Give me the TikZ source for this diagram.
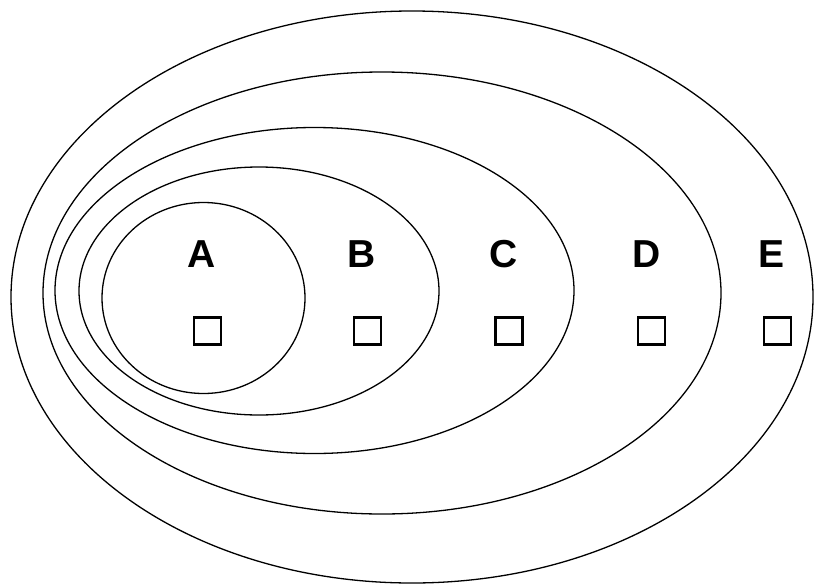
\documentclass[tikz,border=0pt]{standalone}
\usepackage{fontspec}
\setmainfont{Liberation Sans}
\usetikzlibrary{shapes.geometric}
\begin{document}
\begin{tikzpicture}[x=1pt,y=-1pt,
  setline/.style={ellipse, draw, line width=1.3pt, inner sep=0pt, outer sep=0pt},
  setlabel/.style={anchor=base, inner sep=0pt, font=\fontsize{39}{39}\selectfont\bfseries},
  elembox/.style={draw, line width=2.7pt, minimum width=27pt, minimum height=27pt, inner sep=0pt}]
\useasboundingbox (0,0) rectangle (814,584);
\node[setline, minimum width=203pt, minimum height=191pt] (eA) at (203.5,298) {};
\node[setline, minimum width=360pt, minimum height=248pt] (eB) at (259,291) {};
\node[setline, minimum width=519pt, minimum height=326pt] (eC) at (314.5,290.5) {};
\node[setline, minimum width=678pt, minimum height=442pt] (eD) at (382,293) {};
\node[setline, minimum width=802pt, minimum height=572pt] (eE) at (412,297) {};
\node[setlabel] (lA) at (201.5,267) {A};
\node[setlabel] (lB) at (362,267) {B};
\node[setlabel] (lC) at (504,267) {C};
\node[setlabel] (lD) at (646.5,267) {D};
\node[setlabel] (lE) at (771,267) {E};
\node[elembox] (bA) at (207.5,331) {};
\node[elembox] (bB) at (367.5,331) {};
\node[elembox] (bC) at (509,331) {};
\node[elembox] (bD) at (651.5,331) {};
\node[elembox] (bE) at (777.5,331) {};
\end{tikzpicture}
\end{document}
